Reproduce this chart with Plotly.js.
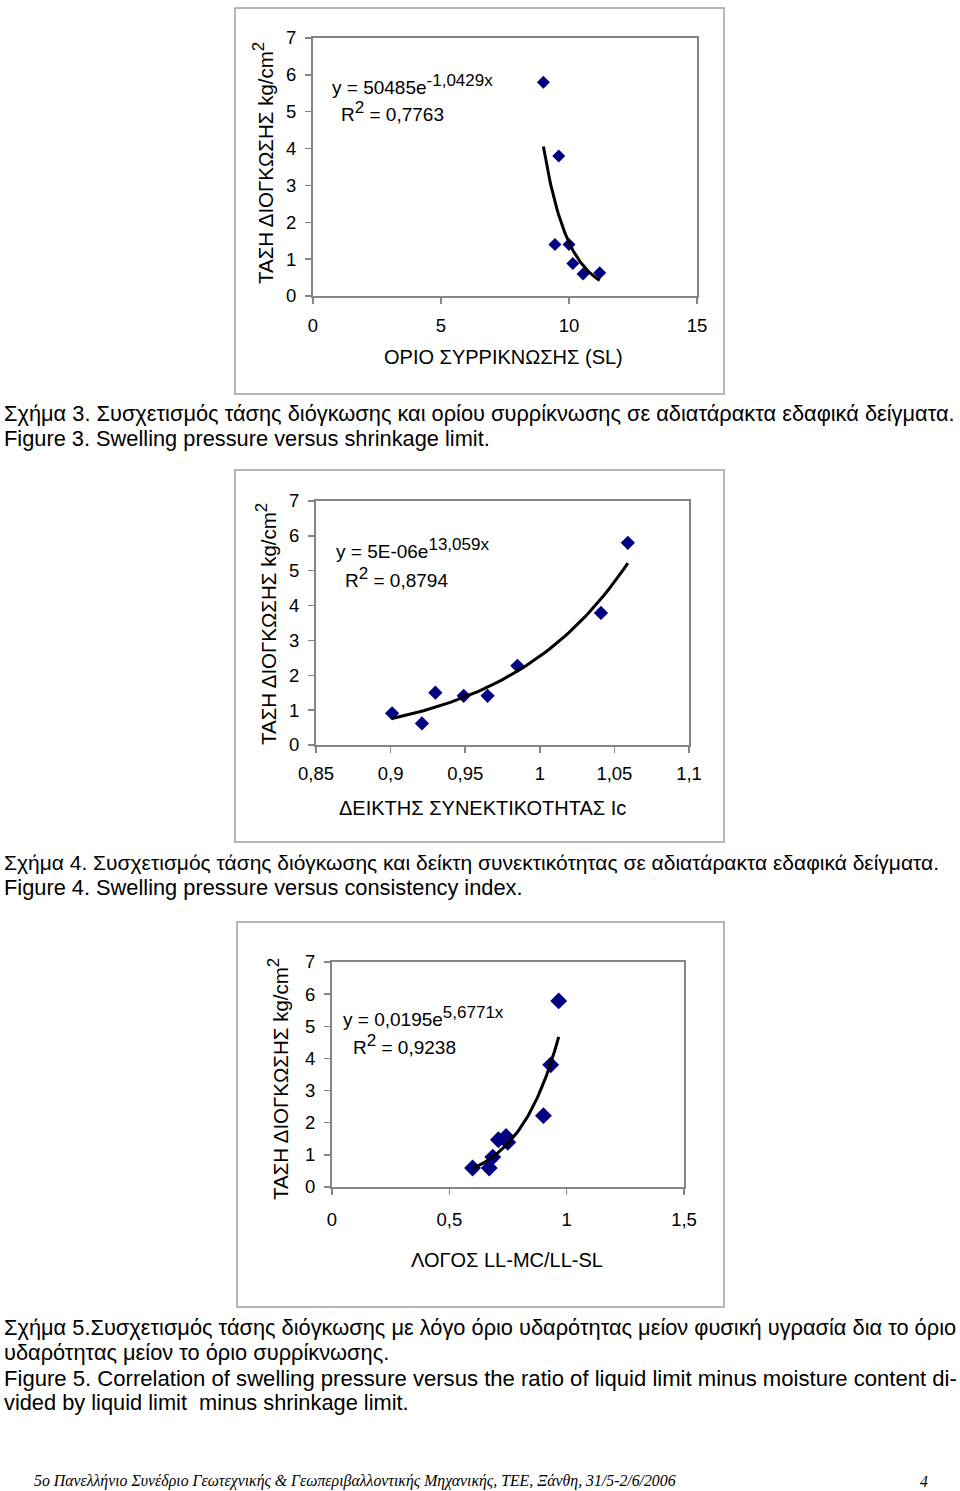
<!DOCTYPE html>
<html>
<head>
<meta charset="utf-8">
<script src="https://cdn.plot.ly/plotly-3.0.1.min.js"></script>
<style>
html,body{margin:0;padding:0;background:#fff;}
#chart{width:960px;height:1491px;}
</style>
</head>
<body>
<div id="chart"></div>
<script>
// ---- Data ----
// Figure 3: swelling pressure vs shrinkage limit (SL)
const slX = [9.0, 9.6, 9.45, 10.0, 10.15, 10.55, 11.2];
const slY = [5.8, 3.8, 1.4, 1.4, 0.88, 0.6, 0.63];
// Figure 4: swelling pressure vs consistency index Ic
const icX = [0.901, 0.921, 0.930, 0.949, 0.965, 0.985, 1.041, 1.059];
const icY = [0.91, 0.62, 1.50, 1.41, 1.41, 2.27, 3.79, 5.80];
// Figure 5: swelling pressure vs ratio LL-MC/LL-SL
const ratioX = [0.599, 0.670, 0.685, 0.709, 0.742, 0.749, 0.901, 0.932, 0.966];
const ratioY = [0.59, 0.59, 0.93, 1.47, 1.57, 1.39, 2.22, 3.80, 5.79];

// Trendline labels as printed on the charts
const eq1 = ["50485", "-1,0429x", "0,7763"];
const eq2 = ["5E-06", "13,059x", "0,8794"];
const eq3 = ["0,0195", "5,6771x", "0,9238"];

const yTitle = "ΤΑΣΗ ΔΙΟΓΚΩΣΗΣ kg/cm";
const xTitles = ["ΟΡΙΟ ΣΥΡΡΙΚΝΩΣΗΣ (SL)", "ΔΕΙΚΤΗΣ ΣΥΝΕΚΤΙΚΟΤΗΤΑΣ Ic", "ΛΟΓΟΣ LL-MC/LL-SL"];

const captions = [
  "Σχήμα 3. Συσχετισμός τάσης διόγκωσης και ορίου συρρίκνωσης σε αδιατάρακτα εδαφικά δείγματα.",
  "Figure 3. Swelling pressure versus shrinkage limit.",
  "Σχήμα 4. Συσχετισμός τάσης διόγκωσης και δείκτη συνεκτικότητας σε αδιατάρακτα εδαφικά δείγματα.",
  "Figure 4. Swelling pressure versus consistency index.",
  "Σχήμα 5.Συσχετισμός τάσης διόγκωσης με λόγο όριο υδαρότητας μείον φυσική υγρασία δια το όριο",
  "υδαρότητας μείον το όριο συρρίκνωσης.",
  "Figure 5. Correlation of swelling pressure versus the ratio of liquid limit minus moisture content di-",
  "vided by liquid limit  minus shrinkage limit."
];
const footer = "5ο Πανελλήνιο Συνέδριο Γεωτεχνικής & Γεωπεριβαλλοντικής Μηχανικής, ΤΕΕ, Ξάνθη, 31/5-2/6/2006";
const pageNo = "4";

// ---- Exponential trendline (least squares on ln y, as the spreadsheet does) ----
function expFit(xs, ys) {
  const n = xs.length;
  const ly = ys.map(v => Math.log(v));
  const mx = xs.reduce((a, b) => a + b, 0) / n;
  const my = ly.reduce((a, b) => a + b, 0) / n;
  let sxy = 0, sxx = 0;
  for (let i = 0; i < n; i++) { sxy += (xs[i] - mx) * (ly[i] - my); sxx += (xs[i] - mx) ** 2; }
  const b = sxy / sxx, a = Math.exp(my - b * mx);
  const x0 = Math.min(...xs), x1 = Math.max(...xs);
  const tx = [], ty = [];
  for (let k = 0; k <= 60; k++) { const x = x0 + (x1 - x0) * k / 60; tx.push(x); ty.push(a * Math.exp(b * x)); }
  return {x: tx, y: ty};
}

const W = 960, H = 1491;
const px = v => v / W;
const py = v => 1 - v / H;

const navy = "#000080";
const f1 = "Liberation Sans, Arial, sans-serif";
const sup = (s, size) => "<sup><span style=\"font-size:" + size + "px\">" + s + "</span></sup>";

function markers(x, y, xa, ya, size) {
  return {x, y, xaxis: xa, yaxis: ya, type: "scatter", mode: "markers",
    marker: {symbol: "diamond", size: size, color: navy, line: {color: navy, width: 0}},
    hoverinfo: "x+y", showlegend: false};
}
function trend(fit, xa, ya) {
  return {x: fit.x, y: fit.y, xaxis: xa, yaxis: ya, type: "scatter", mode: "lines",
    line: {color: "#000", width: 3}, hoverinfo: "skip", showlegend: false};
}

const data = [
  markers(slX, slY, "x", "y", 10), trend(expFit(slX, slY), "x", "y"),
  markers(icX, icY, "x2", "y2", 11), trend(expFit(icX, icY), "x2", "y2"),
  markers(ratioX, ratioY, "x3", "y3", 13), trend(expFit(ratioX, ratioY), "x3", "y3")
];

function xax(domain, range, dtick, anchor, standoff) {
  return {domain, range, dtick, tick0: 0, anchor, showgrid: false, zeroline: false,
    showline: true, mirror: true, linecolor: "#858585", linewidth: 2,
    ticks: "outside", ticklen: 6, tickwidth: 1.5, tickcolor: "#858585",
    tickfont: {family: f1, size: 18.5, color: "#000"}, ticklabelstandoff: standoff, fixedrange: true};
}
function yax(domain, anchor, standoff) {
  return {domain, range: [0, 7], dtick: 1, anchor, showgrid: false, zeroline: false,
    showline: true, mirror: true, linecolor: "#858585", linewidth: 2,
    ticks: "outside", ticklen: 6, tickwidth: 1.5, tickcolor: "#858585",
    tickfont: {family: f1, size: 18.5, color: "#000"}, ticklabelstandoff: standoff, fixedrange: true};
}

const ann = [];
function txt(text, x, y, opts) {
  ann.push(Object.assign({text, x: px(x), y: py(y), xref: "paper", yref: "paper",
    showarrow: false, xanchor: "left", yanchor: "middle",
    font: {family: f1, size: 19, color: "#000"}}, opts || {}));
}

// chart texts
txt("y = " + eq1[0] + "e" + sup(eq1[1], 17), 330, 84);
txt("R" + sup("2", 17) + " = " + eq1[2], 339, 112);
txt("y = " + eq2[0] + "e" + sup(eq2[1], 17), 334, 548);
txt("R" + sup("2", 17) + " = " + eq2[2], 343, 577);
txt("y = " + eq3[0] + "e" + sup(eq3[1], 17), 341, 1016);
txt("R" + sup("2", 17) + " = " + eq3[2], 351, 1044);

const tf = {family: f1, size: 20, color: "#000"};
const yf = {family: f1, size: 20.5, color: "#000"};
txt(xTitles[0], 503, 357, {xanchor: "center", font: tf});
txt(xTitles[1], 482, 808, {xanchor: "center", font: tf});
txt(xTitles[2], 507, 1260, {xanchor: "center", font: tf});
txt(yTitle + sup("2", 17), 263, 163, {xanchor: "center", textangle: -90, font: yf});
txt(yTitle + sup("2", 17), 266, 624, {xanchor: "center", textangle: -90, font: yf});
txt(yTitle + sup("2", 17), 278, 1079, {xanchor: "center", textangle: -90, font: yf});

// captions
const capSizes = [21.8, 21.8, 21.0, 21.8, 21.8, 21.8, 22.1, 21.8];
const capY = [413, 439, 862, 887, 1327, 1352, 1378, 1402];
captions.forEach((c, i) => txt(c, 2, capY[i], {font: {family: f1, size: capSizes[i], color: "#000"}}));
const ft = {family: "Liberation Serif, Times New Roman, serif", size: 15.8, color: "#000"};
txt("<i>" + footer + "</i>", 32, 1481, {font: ft});
txt("<i>" + pageNo + "</i>", 918, 1481, {font: ft});

const frame = (x0, y0, x1, y1) => ({type: "rect", xref: "paper", yref: "paper",
  x0: px(x0), x1: px(x1), y0: py(y1), y1: py(y0), line: {color: "#a0a0a0", width: 1.5}, layer: "below"});

const layout = {
  width: W, height: H, margin: {l: 0, r: 0, t: 0, b: 0},
  paper_bgcolor: "#fff", plot_bgcolor: "#fff", separators: ",.",
  showlegend: false,
  xaxis: xax([px(313), px(697)], [0, 15], 5, "y", 6),
  yaxis: yax([py(296), py(38)], "x", 5),
  xaxis2: xax([px(316), px(689)], [0.85, 1.1], 0.05, "y2", 5),
  yaxis2: yax([py(745), py(501)], "x2", 5),
  xaxis3: xax([px(332), px(684)], [0, 1.5], 0.5, "y3", 9),
  yaxis3: yax([py(1187), py(962)], "x3", 5),
  annotations: ann,
  shapes: [frame(235, 8, 724, 394), frame(235, 470, 724, 842), frame(237, 922, 724, 1307)]
};

Plotly.newPlot("chart", data, layout, {staticPlot: true, displayModeBar: false});
</script>
</body>
</html>
